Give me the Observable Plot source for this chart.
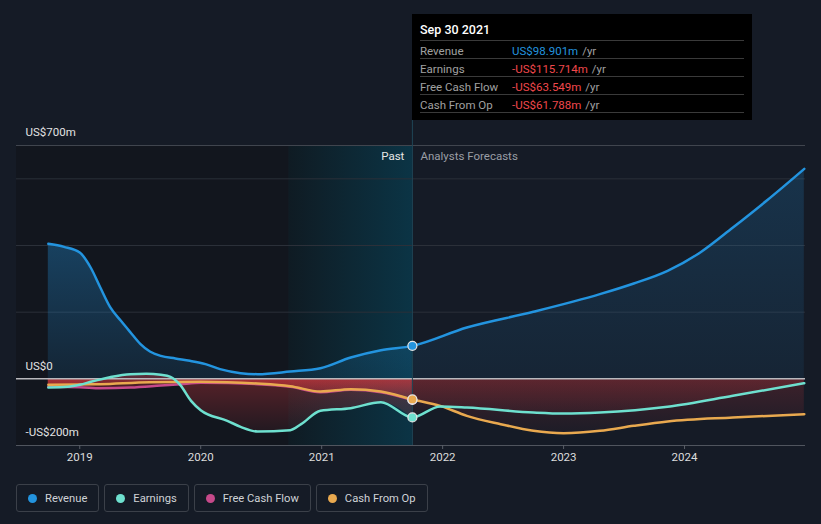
<!DOCTYPE html>
<html><head><meta charset="utf-8">
<script src="https://cdn.jsdelivr.net/npm/d3@7"></script>
<script src="https://cdn.jsdelivr.net/npm/@observablehq/plot@0.6"></script>
<style>
html,body{margin:0;padding:0;background:#151b26;}
body{width:821px;height:524px;overflow:hidden;font-family:Roboto,"Open Sans",sans-serif;}
#wrap{position:relative;width:821px;height:524px;}
#chart{position:absolute;left:0;top:0;}
#tip{position:absolute;top:14px;width:340px;height:106px;background:#000;box-sizing:border-box;padding:0 8px;}
#tip .title{height:26px;line-height:31px;color:#fff;font-size:12.5px;font-weight:500;border-bottom:1px solid #3a3a3a;}
#tip .row{height:17px;line-height:20px;font-size:11.5px;border-bottom:1px solid #3a3a3a;display:flex;}
#tip .lab{width:92px;color:#a0a0a0;}
#tip .unit{color:#a0a0a0;margin-left:4px;}
.legend{position:absolute;left:16px;top:484px;display:flex;gap:5px;}
.item{height:26px;border:1px solid #3b4049;border-radius:3px;display:flex;align-items:center;padding:0 11px 0 11px;color:#cfd2d6;font-size:11.2px;}
.dot{width:9px;height:9px;border-radius:50%;margin-right:8px;}
</style></head>
<body><div id="wrap"><div id="chart"></div><div id="tip"></div><div class="legend" id="legend"></div></div>
<script>
// ---- data (values in US$ millions, x in decimal years) ----
const seriesNames = ["Revenue", "Earnings", "Free Cash Flow", "Cash From Op"];
const seriesColors = ["#2394df", "#6ee0cf", "#c6498a", "#e9a94f"];

const revenueX = [2018.74, 2018.87, 2019.0, 2019.09, 2019.17, 2019.25, 2019.34, 2019.42, 2019.50, 2019.58, 2019.67, 2019.79, 2019.91, 2020.04, 2020.16, 2020.33, 2020.47, 2020.74, 2020.99, 2021.24, 2021.49, 2021.75, 2022.20, 2022.75, 2023.30, 2023.58, 2023.86, 2024.13, 2024.40, 2024.68, 2024.99];
const revenueV = [405, 396, 379, 334, 274, 216, 174, 139, 105, 82, 69, 61, 54, 44, 29, 17, 14, 22, 32, 64, 86, 98.901, 154, 201, 254, 286, 324, 379, 454, 535, 630];

const earningsX = [2018.74, 2018.9, 2019.0, 2019.1, 2019.25, 2019.42, 2019.55, 2019.67, 2019.75, 2019.83, 2019.92, 2020.0, 2020.22, 2020.33, 2020.47, 2020.74, 2020.83, 2020.99, 2021.24, 2021.49, 2021.75, 2021.98, 2022.20, 2022.75, 2023.0, 2023.30, 2023.86, 2024.40, 2024.99];
const earningsV = [-26, -24, -18, -8, 5, 14, 15, 12, 6, -18, -66, -94, -126, -144, -158, -154, -136, -96, -88, -70, -115.714, -83, -86, -101, -104, -101, -84, -51, -13];

const fcfX = [2018.74, 2019.0, 2019.17, 2019.42, 2019.67, 2019.83, 2020.0, 2020.47, 2020.74, 2020.99, 2021.24, 2021.49, 2021.75];
const fcfV = [-24, -25, -28, -26, -20, -16, -12, -16, -24, -40, -33, -40, -63.549];

const cfoX = [2018.74, 2019.0, 2019.17, 2019.58, 2020.0, 2020.22, 2020.47, 2020.74, 2020.99, 2021.24, 2021.49, 2021.75, 2021.98, 2022.20, 2022.48, 2022.75, 2023.0, 2023.30, 2023.58, 2023.86, 2024.40, 2024.99];
const cfoV = [-18, -17, -16, -10, -9, -10, -14, -22, -38, -31, -38, -61.788, -81, -111, -136, -156, -163, -156, -141, -128, -116, -106];

const tickYears = [2019, 2020, 2021, 2022, 2023, 2024];
const yLabelValues = [700, 0, -200];
const yLabelTexts = ["US$700m", "US$0", "-US$200m"];
const gridValues = [200, 400, 600];
const lastActual = 2021.75;      // Sep 30 2021
const bandStart = 2020.73;       // last twelve months
const xDomain = [2018.477, 2025.0];
const yDomain = [-200, 700];
const tipTitle = "Sep 30 2021";
const tipValues = ["US$98.901m", "-US$115.714m", "-US$63.549m", "-US$61.788m"];
const tipValueColors = ["#2394df", "#f0484c", "#f0484c", "#f0484c"];

// ---- build tables ----
const mk = (xs, vs) => xs.map((x, i) => ({x, v: vs[i]}));
const revenue = mk(revenueX, revenueV);
const earnings = mk(earningsX, earningsV);
const fcf = mk(fcfX, fcfV);
const cfo = mk(cfoX, cfoV);
const past = d => d.x <= lastActual;
const fut = d => d.x >= lastActual;
const lastPoints = [
  {...fcf.find(d => d.x === lastActual), c: seriesColors[2]},
  {...cfo.find(d => d.x === lastActual), c: seriesColors[3]},
  {...earnings.find(d => d.x === lastActual), c: seriesColors[1]},
  {...revenue.find(d => d.x === lastActual), c: seriesColors[0]}
];

const curve = "monotone-x";
const chart = Plot.plot({
  width: 821, height: 472,
  marginLeft: 16, marginRight: 16, marginTop: 145, marginBottom: 27,
  style: {background: "transparent", color: "#dddddd", fontFamily: "Roboto, 'Open Sans', sans-serif", fontSize: "11.5px"},
  x: {domain: xDomain, axis: null, label: null},
  y: {domain: yDomain, axis: null, label: null},
  marks: [
    Plot.rect([0], {x1: xDomain[0], x2: bandStart, y1: yDomain[0], y2: yDomain[1], fill: "#12161e"}),
    Plot.rect([0], {x1: bandStart, x2: lastActual, y1: yDomain[0], y2: yDomain[1], fill: "url(#tealGrad)"}),
    Plot.ruleY(gridValues, {stroke: "#2b3039", strokeWidth: 1}),
    Plot.ruleY([yDomain[1]], {stroke: "#40454e", strokeWidth: 1}),
    // areas
    Plot.areaY(revenue.filter(past), {x: "x", y: "v", curve, fill: "url(#revPast)"}),
    Plot.areaY(revenue.filter(fut), {x: "x", y: "v", curve, fill: "url(#revFut)"}),
    Plot.areaY(earnings.filter(past), {x: "x", y: "v", curve, fill: "url(#redPast)"}),
    Plot.areaY(fcf.filter(past), {x: "x", y: "v", curve, fill: "url(#redPast)"}),
    Plot.areaY(cfo.filter(past), {x: "x", y: "v", curve, fill: "url(#redPast)"}),
    Plot.areaY(earnings.filter(fut), {x: "x", y: "v", curve, fill: "url(#redFut)"}),
    Plot.areaY(cfo.filter(fut), {x: "x", y: "v", curve, fill: "url(#redFut)"}),
    Plot.ruleY([0], {stroke: "#b9b9bd", strokeWidth: 1.5}),
    Plot.ruleY([yDomain[0]], {stroke: "#50555e", strokeWidth: 1}),
    Plot.ruleX([lastActual], {y1: yDomain[0], y2: 775, stroke: "#1f4655", strokeWidth: 1}),
    // lines
    Plot.line(fcf, {x: "x", y: "v", curve, stroke: seriesColors[2], strokeWidth: 2.5}),
    Plot.line(cfo, {x: "x", y: "v", curve, stroke: seriesColors[3], strokeWidth: 2.5}),
    Plot.line(earnings, {x: "x", y: "v", curve, stroke: seriesColors[1], strokeWidth: 2.5}),
    Plot.line(revenue, {x: "x", y: "v", curve, stroke: seriesColors[0], strokeWidth: 2.5}),
    Plot.dot(lastPoints, {x: "x", y: "v", r: 4.5, fill: "c", stroke: "#e6e6e6", strokeWidth: 1.2}),
    // axis & labels
    Plot.axisX(tickYears, {label: null, tickSize: 4, tickPadding: 3, stroke: "#5a5f68", fill: "#dddddd", tickFormat: d => String(d), fontSize: 11.5}),
    Plot.text(yLabelValues, {y: d => d, text: (d, i) => yLabelTexts[i], frameAnchor: "left", dx: 9, dy: -13, textAnchor: "start", fill: "#e2e2e2", fontSize: 11.5}),
    Plot.text(["Past"], {x: lastActual, y: yDomain[1], dy: 11, dx: -8, textAnchor: "end", fill: "#e6e6e6", fontSize: 11.5}),
    Plot.text(["Analysts Forecasts"], {x: lastActual, y: yDomain[1], dy: 11, dx: 8, textAnchor: "start", fill: "#9a9ea5", fontSize: 11.5})
  ]
});

// gradients
const defs = d3.select(chart).insert("defs", ":first-child");
function grad(id, stops, horiz) {
  const g = defs.append("linearGradient").attr("id", id)
    .attr("x1", 0).attr("y1", 0).attr("x2", horiz ? 1 : 0).attr("y2", horiz ? 0 : 1);
  stops.forEach(([o, c, a]) => g.append("stop").attr("offset", o).attr("stop-color", c).attr("stop-opacity", a));
}
grad("tealGrad", [[0, "#0f1b23", 1], [1, "#0b3445", 1]], true);
grad("revPast", [[0, "#2394df", 0.34], [1, "#2394df", 0.12]]);
grad("revFut", [[0, "#2394df", 0.2], [1, "#2394df", 0.08]]);
grad("redPast", [[0, "#e0393e", 0.36], [1, "#e0393e", 0.08]]);
grad("redFut", [[0, "#e0393e", 0.2], [1, "#e0393e", 0.04]]);

document.getElementById("chart").appendChild(chart);

// tooltip
const tip = document.getElementById("tip");
tip.style.left = Math.round(chart.scale("x").apply(lastActual)) + "px";
let html = `<div class="title">${tipTitle}</div>`;
seriesNames.forEach((n, i) => {
  html += `<div class="row"><span class="lab">${n}</span><span style="color:${tipValueColors[i]}">${tipValues[i]}</span><span class="unit">/yr</span></div>`;
});
tip.innerHTML = html;

// legend
const leg = document.getElementById("legend");
seriesNames.forEach((n, i) => {
  const it = document.createElement("div");
  it.className = "item";
  it.innerHTML = `<span class="dot" style="background:${seriesColors[i]}"></span><span>${n}</span>`;
  leg.appendChild(it);
});
</script>
</body></html>
